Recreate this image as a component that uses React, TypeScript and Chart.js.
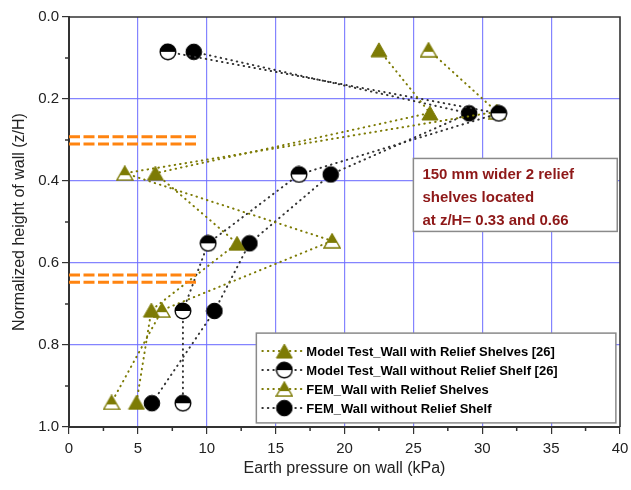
import React, { useEffect, useRef } from 'react';
import { Chart, registerables } from 'chart.js';

Chart.register(...registerables);

// ---- data ----
const seriesLabels = [
  'Model Test_Wall with Relief Shelves [26]',
  'Model Test_Wall without Relief Shelf [26]',
  'FEM_Wall with Relief Shelves',
  'FEM_Wall without Relief Shelf',
];

const modelWithX = [22.5, 26.2, 6.27, 12.2, 5.98, 4.9];
const modelWithY = [0.08, 0.234, 0.381, 0.552, 0.715, 0.94];

const modelWithoutX = [7.18, 31.2, 16.7, 10.1, 8.27, 8.27];
const modelWithoutY = [0.085, 0.235, 0.384, 0.552, 0.717, 0.942];

const femWithX = [26.1, 31.05, 4.05, 19.1, 6.75, 3.09];
const femWithY = [0.08, 0.231, 0.381, 0.546, 0.715, 0.94];

const femWithoutX = [9.06, 29.05, 19.0, 13.1, 10.56, 6.02];
const femWithoutY = [0.085, 0.235, 0.384, 0.552, 0.717, 0.942];

// relief shelf markers (double dashed lines)
const shelfLevels = [0.292, 0.31, 0.629, 0.647];
const shelfXRange = [0, 9.33];

const xTickStep = 5;
const yTickStep = 0.2;

const noteLines = ['150 mm wider 2 relief', 'shelves located', 'at z/H= 0.33 and 0.66'];

// ---- styles ----
const OLIVE = '#7d7b05';
const DARK = '#222222';
const GRID_BLUE = 'rgba(110,110,255,0.85)';
const FONT = "Arial, 'Liberation Sans', sans-serif";
const DOTS = [0.5, 5];

function makeMarker(shape: 'tri' | 'circ', color: string, half: boolean): HTMLCanvasElement {
  const c = document.createElement('canvas');
  const w = 18;
  const h = shape === 'tri' ? 16 : 18;
  c.width = w;
  c.height = h;
  const ctx = c.getContext('2d')!;
  const path = () => {
    ctx.beginPath();
    if (shape === 'circ') {
      ctx.arc(9, 9, 7.8, 0, Math.PI * 2);
    } else {
      ctx.moveTo(9, 1);
      ctx.lineTo(17, 15);
      ctx.lineTo(1, 15);
      ctx.closePath();
    }
  };
  if (!half) {
    path();
    ctx.fillStyle = color;
    ctx.fill();
    ctx.lineWidth = 1;
    ctx.strokeStyle = color;
    ctx.stroke();
  } else {
    path();
    ctx.fillStyle = '#ffffff';
    ctx.fill();
    ctx.save();
    path();
    ctx.clip();
    ctx.fillStyle = color;
    const cut = shape === 'circ' ? 9 : 10;
    ctx.fillRect(0, 0, w, cut);
    ctx.restore();
    path();
    ctx.lineWidth = 1.4;
    ctx.strokeStyle = color;
    ctx.stroke();
  }
  return c;
}

const toPts = (xs: number[], ys: number[]) => xs.map((x, i) => ({ x, y: ys[i] }));

export default function App() {
  const ref = useRef<HTMLCanvasElement | null>(null);

  useEffect(() => {
    if (!ref.current) return;
    const mTriFull = makeMarker('tri', OLIVE, false);
    const mTriHalf = makeMarker('tri', OLIVE, true);
    const mCircHalf = makeMarker('circ', '#000000', true);
    const mCircFull = makeMarker('circ', '#000000', false);

    const lineDefs = [
      { label: seriesLabels[0], data: toPts(modelWithX, modelWithY), color: OLIVE, marker: mTriFull },
      { label: seriesLabels[1], data: toPts(modelWithoutX, modelWithoutY), color: '#333333', marker: mCircHalf },
      { label: seriesLabels[2], data: toPts(femWithX, femWithY), color: OLIVE, marker: mTriHalf },
      { label: seriesLabels[3], data: toPts(femWithoutX, femWithoutY), color: '#333333', marker: mCircFull },
    ];

    const shelfSets = shelfLevels.map((lv) => ({
      label: 'shelf',
      data: shelfXRange.map((x) => ({ x, y: lv })),
      showLine: true,
      borderColor: '#ff8410',
      borderWidth: 3,
      borderDash: [11, 3.5],
      pointRadius: 0,
      fill: false,
    }));

    const seriesSets = lineDefs.map((d) => ({
      label: d.label,
      data: d.data,
      showLine: true,
      borderColor: d.color,
      borderWidth: 2,
      borderDash: DOTS,
      borderCapStyle: 'round',
      pointStyle: d.marker,
      pointRadius: 9,
      fill: false,
    }));

    const framePlugin = {
      id: 'frame',
      beforeDatasetsDraw(chart: any) {
        const { ctx, chartArea: a } = chart;
        const xs = chart.scales.x;
        const ys = chart.scales.y;
        ctx.save();
        ctx.strokeStyle = '#333';
        ctx.lineWidth = 1.5;
        // minor ticks
        for (let v = xTickStep / 2; v < 40; v += xTickStep) {
          const px = xs.getPixelForValue(v);
          ctx.beginPath();
          ctx.moveTo(px, a.bottom);
          ctx.lineTo(px, a.bottom + 4);
          ctx.stroke();
        }
        for (let v = yTickStep / 2; v < 1; v += yTickStep) {
          const py = ys.getPixelForValue(v);
          ctx.beginPath();
          ctx.moveTo(a.left, py);
          ctx.lineTo(a.left - 4, py);
          ctx.stroke();
        }
        ctx.lineWidth = 1.6;
        ctx.beginPath();
        ctx.moveTo(a.left, a.top);
        ctx.lineTo(a.right, a.top);
        ctx.lineTo(a.right, a.bottom);
        ctx.stroke();
        ctx.restore();
      },
    };

    const boxesPlugin = {
      id: 'boxes',
      afterDatasetsDraw(chart: any) {
        const { ctx } = chart;
        const xs = chart.scales.x;
        const ys = chart.scales.y;
        ctx.save();
        // note box
        const nx0 = xs.getPixelForValue(25.0);
        const nx1 = xs.getPixelForValue(39.8);
        const ny0 = ys.getPixelForValue(0.345);
        const ny1 = ys.getPixelForValue(0.523);
        ctx.fillStyle = '#ffffff';
        ctx.fillRect(nx0, ny0, nx1 - nx0, ny1 - ny0);
        ctx.strokeStyle = '#8a8a8a';
        ctx.lineWidth = 1.5;
        ctx.strokeRect(nx0, ny0, nx1 - nx0, ny1 - ny0);
        ctx.fillStyle = '#8e1818';
        ctx.font = `bold 15px ${FONT}`;
        ctx.textBaseline = 'middle';
        ctx.textAlign = 'left';
        noteLines.forEach((t, i) => {
          ctx.fillText(t, nx0 + 9, ny0 + 16 + i * 23);
        });

        // legend box
        const lx0 = xs.getPixelForValue(13.6);
        const lx1 = xs.getPixelForValue(39.7);
        const ly0 = ys.getPixelForValue(0.771);
        const ly1 = ys.getPixelForValue(0.99);
        ctx.fillStyle = '#ffffff';
        ctx.fillRect(lx0, ly0, lx1 - lx0, ly1 - ly0);
        ctx.strokeStyle = '#8a8a8a';
        ctx.lineWidth = 1.5;
        ctx.strokeRect(lx0, ly0, lx1 - lx0, ly1 - ly0);
        ctx.font = `bold 13px ${FONT}`;
        lineDefs.forEach((d, i) => {
          const y = ly0 + 18 + i * 19;
          ctx.save();
          ctx.strokeStyle = d.color;
          ctx.lineWidth = 2;
          ctx.lineCap = 'round';
          ctx.setLineDash(DOTS);
          ctx.beginPath();
          ctx.moveTo(lx0 + 6, y);
          ctx.lineTo(lx0 + 46, y);
          ctx.stroke();
          ctx.restore();
          const m = d.marker;
          ctx.drawImage(m, lx0 + 28 - m.width / 2, y - m.height / 2);
          ctx.fillStyle = '#000';
          ctx.fillText(d.label, lx0 + 50, y + 1);
        });
        ctx.restore();
      },
    };

    const chart = new Chart(ref.current, {
      type: 'scatter',
      data: { datasets: [...shelfSets, ...seriesSets] as any },
      options: {
        animation: false,
        responsive: false,
        layout: { padding: { top: 17, right: 9, left: 0, bottom: 0 } },
        plugins: { legend: { display: false }, tooltip: { enabled: false } },
        scales: {
          x: {
            type: 'linear',
            min: 0,
            max: 40,
            afterFit: (s: any) => {
              s.height = 63;
              s.paddingRight = 0;
              s.paddingLeft = 0;
            },
            ticks: { stepSize: xTickStep, color: DARK, font: { family: FONT, size: 15 }, padding: 6 },
            grid: {
              color: (c: any) => (c.tick && (c.tick.value === 0 || c.tick.value === 40) ? 'rgba(0,0,0,0)' : GRID_BLUE),
              lineWidth: 1.2,
              tickColor: '#333',
              tickLength: 7,
            },
            border: { color: '#333', width: 2 },
            title: {
              display: true,
              text: 'Earth pressure on wall (kPa)',
              color: DARK,
              font: { family: FONT, size: 16 },
              padding: { top: 4, bottom: 12 },
            },
          },
          y: {
            type: 'linear',
            min: 0,
            max: 1,
            reverse: true,
            afterFit: (s: any) => {
              s.width = 69;
            },
            ticks: {
              stepSize: yTickStep,
              color: DARK,
              font: { family: FONT, size: 15 },
              padding: 3,
              callback: (v: any) => Number(v).toFixed(1),
            },
            grid: {
              color: (c: any) => (c.tick && (c.tick.value === 0 || c.tick.value === 1) ? 'rgba(0,0,0,0)' : GRID_BLUE),
              lineWidth: 1.2,
              tickColor: '#333',
              tickLength: 7,
            },
            border: { color: '#333', width: 2 },
            title: {
              display: true,
              text: 'Normalized height of wall (z/H)',
              color: DARK,
              font: { family: FONT, size: 16 },
              padding: { top: 10, bottom: 4 },
            },
          },
        },
      },
      plugins: [framePlugin, boxesPlugin],
    });
    return () => chart.destroy();
  }, []);

  return (
    <div style={{ position: 'fixed', left: 0, top: 0, width: 631, height: 490, background: '#fff' }}>
      <canvas ref={ref} width={631} height={490} />
    </div>
  );
}
